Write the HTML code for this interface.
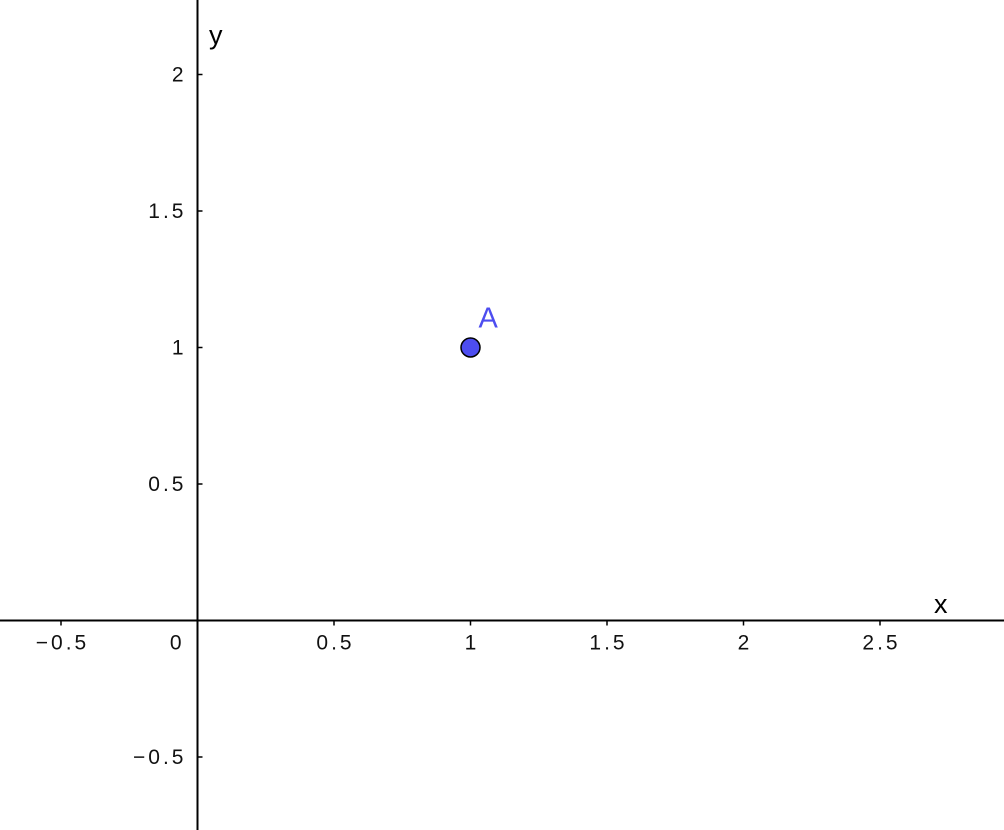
<!DOCTYPE html>
<html><head><meta charset="utf-8"><style>
html,body{margin:0;padding:0;background:#fff;}
svg{display:block;font-family:"Liberation Sans","DejaVu Sans",sans-serif;}
</style></head><body>
<svg id="chart" width="1004" height="830">
<g id="axes"></g><g id="marks"></g>
</svg>
<script>
const xTicks=[-0.5,0.5,1,1.5,2,2.5];
const xTickLabels=["\u22120.5","0.5","1","1.5","2","2.5"];
const yTicks=[-0.5,0.5,1,1.5,2];
const yTickLabels=["\u22120.5","0.5","1","1.5","2"];
const pointNames=["A"];
const pointX=[1];
const pointY=[1];
const ox=197.5, oy=620.5, s=273;
const X=v=>ox+v*s, Y=v=>oy-v*s;
const NS="http://www.w3.org/2000/svg";
const axes=document.getElementById('axes'), marks=document.getElementById('marks');
function mk(tag,attrs,parent,text){const e=document.createElementNS(NS,tag);for(const k in attrs)e.setAttribute(k,attrs[k]);if(text!==undefined)e.textContent=text;parent.appendChild(e);return e;}
let e;
const LS=3;
e=mk('line',{x1:0,y1:oy,x2:1004,y2:oy,stroke:'#000','stroke-width':2},axes);


e=mk('line',{x1:ox,y1:0,x2:ox,y2:830,stroke:'#000','stroke-width':2},axes);


xTicks.forEach((v,i)=>{
 e=mk('line',{x1:X(v),y1:oy,x2:X(v),y2:oy+5,stroke:'#000','stroke-width':1.5},axes);
 
 
 e=mk('text',{x:X(v)+LS/2,y:oy+29,'text-anchor':'middle','font-size':21,'letter-spacing':LS,fill:'#111'},axes,xTickLabels[i]);
 
 
});
yTicks.forEach((v,i)=>{
 e=mk('line',{x1:ox,y1:Y(v),x2:ox+5,y2:Y(v),stroke:'#000','stroke-width':1.5},axes);
 
 
 e=mk('text',{x:ox-14+LS,y:Y(v)+7,'text-anchor':'end','font-size':21,'letter-spacing':LS,fill:'#111'},axes,yTickLabels[i]);
 
 
});
e=mk('text',{x:ox-16+LS,y:oy+29,'text-anchor':'end','font-size':21,'letter-spacing':LS,fill:'#111'},axes,'0');


e=mk('text',{x:934,y:613,'font-size':27,fill:'#000'},axes,'x');


e=mk('text',{x:209,y:44,'font-size':27,fill:'#000'},axes,'y');


pointNames.forEach((n,i)=>{
 e=mk('circle',{cx:X(pointX[i]),cy:Y(pointY[i]),r:9.5,fill:'#4d4df0',stroke:'#000','stroke-width':1.5},marks);
 
 
 e=mk('text',{x:X(pointX[i])+8,y:Y(pointY[i])-20,'font-size':29,fill:'#4d4df0'},marks,n);
 
 
});
</script>
</body></html>
